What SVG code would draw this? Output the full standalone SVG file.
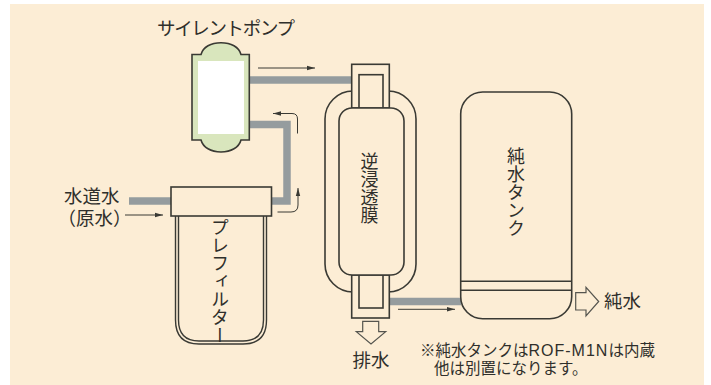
<svg xmlns="http://www.w3.org/2000/svg" width="711" height="385" viewBox="0 0 711 385">
<style>
text{font-family:"Noto Sans CJK JP","Noto Sans",sans-serif;fill:#2f2f2b;font-size:18.500px}
.v{writing-mode:vertical-rl;text-anchor:start;font-size:18px}
.n{font-size:15.500px}
.l{font-family:"Liberation Sans",sans-serif;font-size:16px;letter-spacing:1px}
.s{fill:none;stroke:#3a3a34;stroke-width:1.6}
.b{fill:#fcedd5;stroke:#3a3a34;stroke-width:1.6}
.p{fill:none;stroke:#959c9e;stroke-width:7.5}
.a{fill:none;stroke:#3a3a34;stroke-width:1}
.o{fill:#fcedd5;stroke:#55554f;stroke-width:1.2}
</style>
<defs><marker id="h" markerWidth="9" markerHeight="6" refX="8" refY="3" orient="auto" markerUnits="userSpaceOnUse"><path d="M0 .8L8 3L0 5.2Z" fill="#3a3a34"/></marker></defs>
<rect width="711" height="385" fill="#fff"/>
<rect x="10" y="4" width="694" height="381" fill="#fcedd5"/>
<g id="connectors">
<path class="p" d="M249 80H352"/>
<path class="p" d="M249 124.500H287V201H271"/>
<path class="p" d="M129 201H171"/>
<path class="p" d="M389 301.500H461"/>
<path class="a" marker-end="url(#h)" d="M258 68H315"/>
<path class="a" marker-end="url(#h)" d="M297.500 133.500V119Q297.500 113.500 292 113.500H273"/>
<path class="a" marker-end="url(#h)" d="M277.500 212H291Q298 212 298 205V188"/>
<path class="a" marker-end="url(#h)" d="M125 215H163"/>
<path class="a" marker-end="url(#h)" d="M398 309.300H455"/>
<path class="o" d="M362.700 321.300H378.700V331.700H385.700L371 344L356.300 331.700H362.700Z"/>
<path class="o" d="M575.700 292.700H586V287.300L598.700 301.500L586 316V310H575.700Z"/>
</g>
<g id="pump">
<path class="s" style="fill:#d9e6bd" d="M192 54.500H201C203 47 211 42.700 221 42.700S239 47 241 54.500H249.300V140H241C239 147.500 231 152 221 152S203 147.500 201 140H192Z"/>
<rect x="198" y="61" width="46" height="73" fill="#fff"/>
<text x="157" y="34.500" textLength="138">サイレントポンプ</text>
</g>
<g id="prefilter">
<path class="s" style="stroke-width:1.4" d="M175.500 216V320Q175.500 344 199 344H243Q266.500 344 266.500 320V216"/>
<path class="s" style="stroke-width:1.4" d="M178.500 216V320Q178.500 341 199 341H243Q263.500 341 263.500 320V216"/>
<rect class="b" x="171" y="187" width="100.500" height="29"/>
<text class="v" x="220" y="218">プレフィルター</text>
</g>
<g id="ro">
<rect class="b" x="325" y="91" width="91" height="201" rx="28"/>
<rect class="b" x="351.700" y="64.300" width="37.600" height="43.700"/>
<rect class="b" x="359" y="74.700" width="24" height="33.300"/>
<rect class="b" x="351.700" y="275" width="37.600" height="43"/>
<rect class="b" x="359" y="275" width="24" height="33"/>
<rect class="b" x="339" y="108" width="65" height="167" rx="13"/>
<text class="v" x="369.500" y="152">逆浸透膜</text>
</g>
<g id="tank">
<rect class="b" x="460.700" y="92" width="111" height="226.700" rx="22"/>
<path class="s" d="M460.700 281.300H571.700M460.700 290.300H571.700"/>
<text class="v" x="516" y="147">純水タンク</text>
</g>
<g id="labels">
<text x="64" y="202.500">水道水</text>
<text x="57.500" y="224.500">（原水）</text>
<text x="352.500" y="367">排水</text>
<text x="604" y="308">純水</text>
<text class="n" x="420" y="356">※純水タンクは<tspan class="l">ROF-M1N</tspan>は内蔵</text>
<text class="n" x="434" y="374">他は別置になります。</text>
</g>
</svg>
